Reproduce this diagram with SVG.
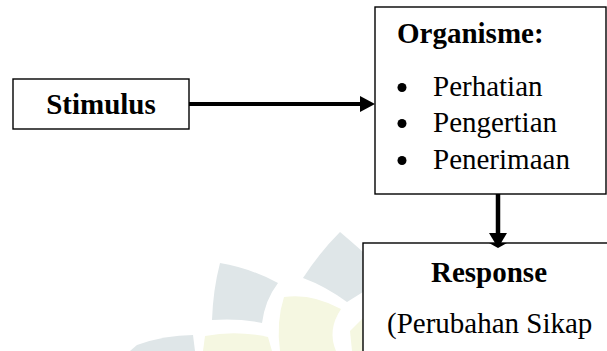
<svg xmlns="http://www.w3.org/2000/svg" width="607" height="351" viewBox="0 0 607 351">
<style>
.box{fill:#fff;stroke:#000;stroke-width:1.4}
.t{font-family:"Liberation Serif","Times New Roman",serif;font-size:29px;fill:#000}
.b{font-weight:bold}
.wg{fill:#dfe6e8}
.wy{fill:#f5f7e1}
</style>
<rect width="607" height="351" fill="#fff"/>
<g id="watermark">
<path class="wg" d="M340 232 Q353 243 363 252 L363 292 L347 302 Q325 286 303 278 Q320 252 340 232 Z"/>
<path class="wg" d="M220 263 Q250 268 278 283 Q265 300 262 323 Q238 318 212 320 Q213 290 220 263 Z"/>
<path class="wy" d="M284 297 Q312 293 341 309 Q327 330 336 351 L280 351 Q276 322 284 297 Z"/>
<path class="wy" d="M350 331 L363 318 L363 351 L352 351 Z"/>
<path class="wy" d="M205 336 Q236 330 268 337 L272 351 L203 351 Z"/>
<path class="wg" d="M137 345 Q165 335 193 335 L195 351 L130 351 Z"/>
</g>
<g id="connectors">
<line x1="189" y1="104" x2="362" y2="104" stroke="#000" stroke-width="4"/>
<polygon points="360,96 375,104 360,112" fill="#000"/>
<line x1="498" y1="194" x2="498" y2="235" stroke="#000" stroke-width="4.5"/>
<polygon points="489,233 507,233 498,248" fill="#000"/>
</g>
<g id="stimulus">
<rect class="box" x="13" y="79" width="176" height="50"/>
<text class="t b" x="101" y="114" text-anchor="middle">Stimulus</text>
</g>
<g id="organisme">
<rect class="box" x="375" y="7" width="231" height="187"/>
<text class="t b" x="397" y="43">Organisme:</text>
<circle cx="402" cy="87.5" r="4.5"/>
<circle cx="402" cy="123.5" r="4.5"/>
<circle cx="402" cy="160.5" r="4.5"/>
<text class="t" x="433" y="96">Perhatian</text>
<text class="t" x="433" y="132">Pengertian</text>
<text class="t" x="433" y="169">Penerimaan</text>
</g>
<g id="response">
<rect class="box" x="363" y="243" width="260" height="130"/>
<polygon points="489,243 507,243 498,248" fill="#000"/>
<text class="t b" x="489" y="282" text-anchor="middle">Response</text>
<text class="t" x="387" y="333">(Perubahan Sikap</text>
</g>
</svg>
